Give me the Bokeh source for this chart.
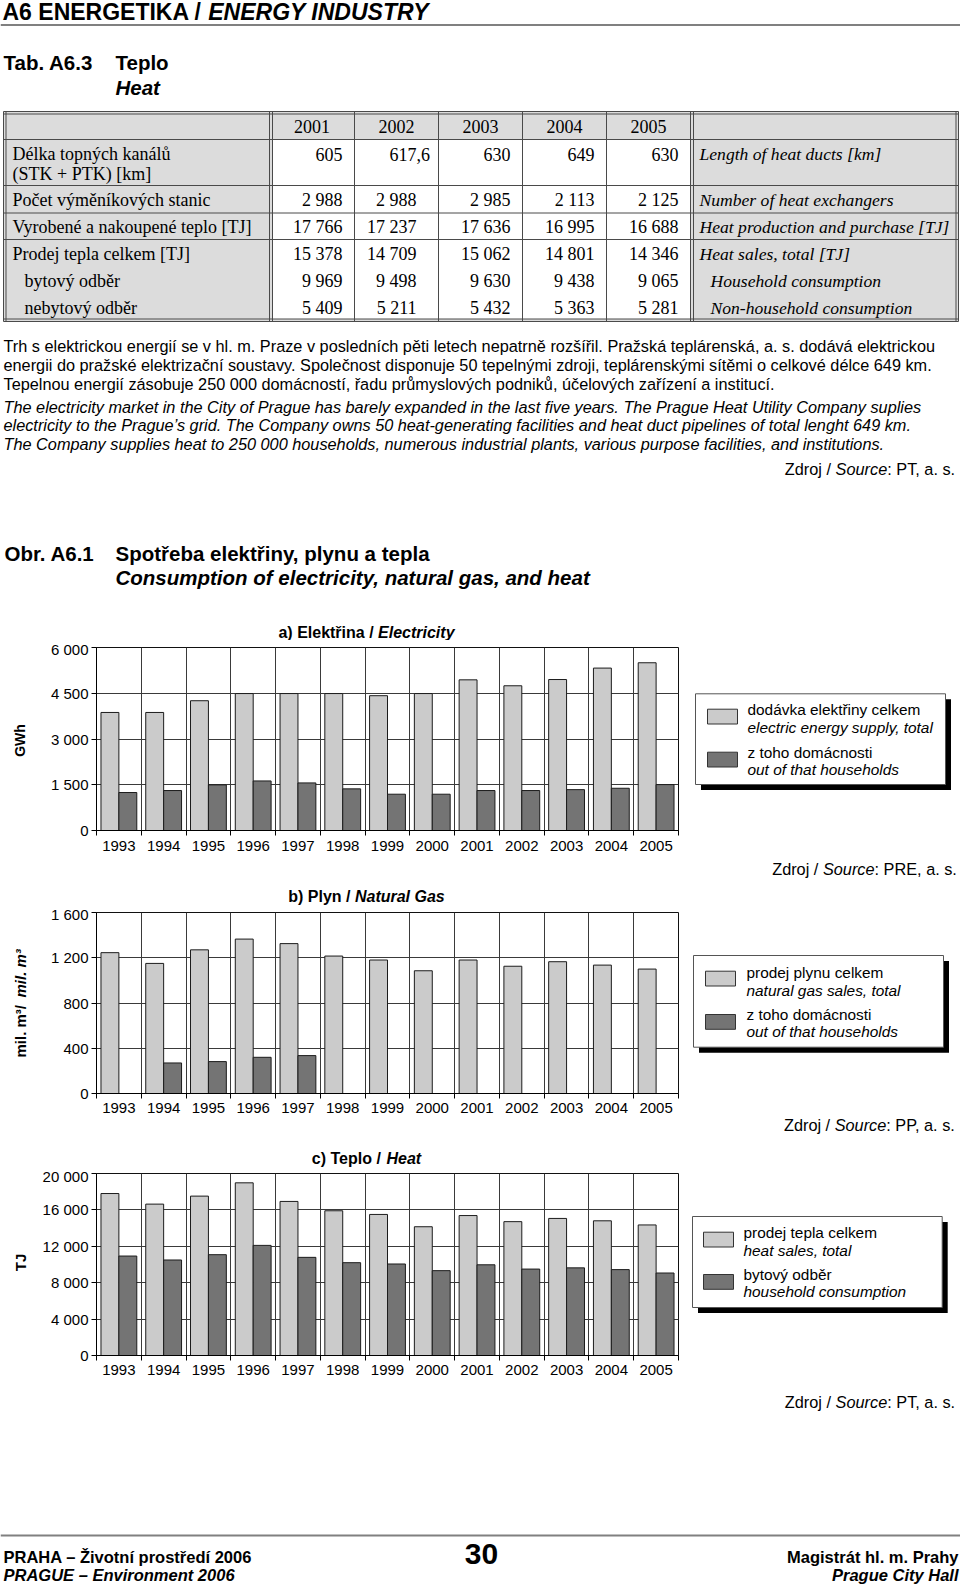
import math
import unicodedata
import numpy as np
from bokeh.plotting import figure
from bokeh.layouts import column, row
from bokeh.models import Range1d, FixedTicker, ColumnDataSource
from bokeh.core.properties import value
from bokeh.embed import file_html
from bokeh.resources import INLINE

# ------------------------------------------------------------------ data
years = ["1993", "1994", "1995", "1996", "1997", "1998", "1999",
         "2000", "2001", "2002", "2003", "2004", "2005"]

elec_total = [3870, 3870, 4255, 4490, 4490, 4490, 4420, 4490, 4940, 4745, 4950, 5325, 5500]
elec_households = [1245, 1310, 1495, 1625, 1560, 1365, 1190, 1190, 1310, 1310, 1340, 1385, 1505]
elec_ticks = [0, 1500, 3000, 4500, 6000]
elec_tick_labels = ["0", "1 500", "3 000", "4 500", "6 000"]

gas_total = [1245, 1150, 1270, 1365, 1325, 1215, 1180, 1085, 1180, 1125, 1165, 1135, 1100]
gas_households = [None, 270, 282, 320, 335, None, None, None, None, None, None, None, None]
gas_ticks = [0, 400, 800, 1200, 1600]
gas_tick_labels = ["0", "400", "800", "1 200", "1 600"]

heat_total = [17800, 16635, 17515, 18975, 16930, 15905, 15500, 14150, 15378, 14709, 15062, 14801, 14346]
heat_households = [10930, 10495, 11080, 12100, 10785, 10200, 10055, 9325, 9969, 9498, 9630, 9438, 9065]
heat_ticks = [0, 4000, 8000, 12000, 16000, 20000]
heat_tick_labels = ["0", "4 000", "8 000", "12 000", "16 000", "20 000"]

table_years = ["2001", "2002", "2003", "2004", "2005"]
duct_length_km = [605, 617.6, 630, 649, 630]
heat_exchangers = [2988, 2988, 2985, 2113, 2125]
heat_production_tj = [17766, 17237, 17636, 16995, 16688]
heat_sales_tj = [15378, 14709, 15062, 14801, 14346]
household_tj = [9969, 9498, 9630, 9438, 9065]
non_household_tj = [5409, 5211, 5432, 5363, 5281]

table_rows_cz = [["Délka topných kanálů", "(STK + PTK) [km]"], ["Počet výměníkových stanic"],
                 ["Vyrobené a nakoupené teplo [TJ]"], ["Prodej tepla celkem [TJ]"],
                 ["bytový odběr"], ["nebytový odběr"]]
table_rows_en = ["Length of heat ducts [km]", "Number of heat exchangers",
                 "Heat production and purchase [TJ]", "Heat sales, total [TJ]",
                 "Household consumption", "Non-household consumption"]
table_values = [duct_length_km, heat_exchangers, heat_production_tj,
                heat_sales_tj, household_tj, non_household_tj]

para_cz = [
    "Trh s elektrickou energií se v hl. m. Praze v posledních pěti letech nepatrně rozšířil. Pražská teplárenská, a. s. dodává elektrickou",
    "energii do pražské elektrizační soustavy. Společnost disponuje 50 tepelnými zdroji, teplárenskými sítěmi o celkové délce 649 km.",
    "Tepelnou energií zásobuje 250 000 domácností, řadu průmyslových podniků, účelových zařízení a institucí.",
]
para_en = [
    "The electricity market in the City of Prague has barely expanded in the last five years. The Prague Heat Utility Company suplies",
    "electricity to the Prague’s grid. The Company owns 50 heat-generating facilities and heat duct pipelines of total lenght 649 km.",
    "The Company supplies heat to 250 000 households, numerous industrial plants, various purpose facilities, and institutions.",
]

# ------------------------------------------------------------------ style
SANS = "Liberation Sans"
SERIF = "Liberation Serif"
LIGHT = "#cbcbcb"
DARK = "#747474"
EDGE = "#1c1c1c"
GRID = "#3a3a3a"
TGRAY = "#dcdcdc"
TLINE = "#4a4a4a"

# Helvetica / Arial advance widths (1/1000 em), used to lay out mixed-style lines
_UP = "ABCDEFGHIJKLMNOPQRSTUVWXYZ"
_LO = "abcdefghijklmnopqrstuvwxyz"
W_REG = dict(zip(_UP, [667, 667, 722, 722, 667, 611, 778, 722, 278, 500, 667, 556, 833, 722, 778, 667, 778, 722, 667, 611, 722, 667, 944, 667, 667, 611]))
W_REG.update(zip(_LO, [556, 556, 500, 556, 556, 278, 556, 556, 222, 222, 500, 222, 833, 556, 556, 556, 556, 333, 500, 278, 556, 500, 722, 500, 500, 500]))
W_REG.update({" ": 278, ",": 278, ".": 278, ":": 278, ";": 278, "/": 278, "(": 333, ")": 333, "-": 333,
              "–": 556, "[": 278, "]": 278, "+": 584, "’": 222, "³": 333})
W_BOLD = dict(zip(_UP, [722, 722, 722, 722, 667, 611, 778, 722, 278, 556, 722, 611, 833, 722, 778, 667, 778, 722, 667, 611, 722, 667, 944, 667, 667, 611]))
W_BOLD.update(zip(_LO, [556, 611, 556, 611, 556, 333, 611, 611, 278, 278, 556, 278, 889, 611, 611, 611, 611, 389, 556, 333, 611, 556, 778, 556, 556, 500]))
W_BOLD.update({" ": 278, ",": 278, ".": 278, ":": 333, ";": 333, "/": 278, "(": 333, ")": 333, "-": 333,
               "–": 556, "[": 333, "]": 333, "+": 584, "’": 278, "³": 333})


def tw(s, size, bold=False):
    tab = W_BOLD if bold else W_REG
    tot = 0
    for ch in s:
        if ch.isdigit():
            tot += 556
            continue
        if ch in tab:
            tot += tab[ch]
            continue
        base = unicodedata.normalize("NFD", ch)[0]
        tot += tab.get(base, 556)
    return tot * size / 1000.0


# ------------------------------------------------------------------ page geometry (1 px = 1 unit)
PAGE_W, PAGE_H = 960, 1588
BANDS = [0, 640, 857, 905, 1115, 1167, 1380, 1588]
COLS = [0, 36, 686, 960]
FRAME_L, FRAME_R = 96, 678
FRAMES = {1: (647, 830), 3: (912, 1093), 5: (1173, 1355)}


def deco(cx0, cx1, bi):
    x0, x1 = COLS[cx0], COLS[cx1]
    y0, y1 = BANDS[bi], BANDS[bi + 1]
    p = figure(width=x1 - x0, height=y1 - y0,
               x_range=Range1d(x0, x1), y_range=Range1d(y1, y0),
               output_backend="svg", toolbar_location=None, min_border=0,
               x_axis_type=None, y_axis_type=None, outline_line_color=None,
               background_fill_color="white", border_fill_color="white", margin=(0, 0, 0, 0))
    return p


def row_deco(cx0, cx1, bi):
    """Decoration figure inside a chart row; its frame matches the chart frame vertically."""
    x0, x1 = COLS[cx0], COLS[cx1]
    y0, y1 = BANDS[bi], BANDS[bi + 1]
    ft, fb = FRAMES[bi]
    p = figure(width=x1 - x0, height=y1 - y0,
               x_range=Range1d(x0, x1), y_range=Range1d(fb, ft),
               output_backend="svg", toolbar_location=None,
               min_border_left=0, min_border_right=0,
               min_border_top=ft - y0, min_border_bottom=y1 - fb,
               x_axis_type=None, y_axis_type=None, outline_line_color=None,
               background_fill_color="white", border_fill_color="white", margin=(0, 0, 0, 0))
    return p


def T(p, x, y, s, size, style="normal", align="left", font=SANS, color="#000000", angle=0.0):
    p.text(x=[x], y=[y], text=[s], text_font=value(font), text_font_size=value(f"{size}px"),
           text_font_style=style, text_align=align, text_baseline="middle",
           text_color=color, angle=angle)


def mixed(p, x, y, pieces, size, align="left"):
    widths = [tw(s, size, "bold" in st) for s, st in pieces]
    total = sum(widths)
    if align == "center":
        cur = x - total / 2
    elif align == "right":
        cur = x - total
    else:
        cur = x
    for (s, st), w in zip(pieces, widths):
        T(p, cur, y, s, size, st)
        cur += w


def source_line(p, y, who):
    mixed(p, 956.5, y, [("Zdroj / ", "normal"), ("Source", "italic"), (f": {who}, a. s.", "normal")],
          16.3, "right")


def fmt_num(v):
    if isinstance(v, float) and not float(v).is_integer():
        return f"{v:.1f}".replace(".", ",")
    return f"{int(v):,}".replace(",", " ")


# ------------------------------------------------------------------ band 0 : header, table, text
top = deco(0, 3, 0)
mixed(top, 2, 11, [("A6 ENERGETIKA / ", "bold"), ("ENERGY INDUSTRY", "bold italic")], 23)
top.line(x=[0, 960], y=[24.5, 24.5], line_color="#808080", line_width=2)
T(top, 3, 62, "Tab. A6.3", 20.5, "bold")
T(top, 115, 62, "Teplo", 20.5, "bold")
T(top, 115, 87, "Heat", 20.5, "bold italic")

# table
TL, TR, TT, TB = 3, 958, 111, 321
top.quad(left=[TL], right=[TR], top=[TT], bottom=[TB], fill_color=TGRAY, line_color=None)
top.quad(left=[272], right=[690], top=[139.5], bottom=[TB - 2.5], fill_color="white", line_color=None)
hlines = [TT, TT + 2.5, 139, 185, 212.5, 239, TB - 2.5, TB]
top.multi_line(xs=[[TL, TR] for _ in hlines], ys=[[h, h] for h in hlines],
               line_color=TLINE, line_width=1)
vlines = [TL, TL + 2.5, 269, 272, 354, 438, 522, 606, 690, 693, TR - 2.5, TR]
top.multi_line(xs=[[v, v] for v in vlines], ys=[[TT, TB] for _ in vlines],
               line_color=TLINE, line_width=1)

col_centers = [311.5, 396, 480, 564, 648]
num_right = [342, 416, 510, 594, 678]
TSZ = 18
TSZ_EN = 17.6
for yr_lbl, cx in zip(table_years, col_centers):
    T(top, cx, 125.5, yr_lbl, TSZ, align="center", font=SERIF)
row_y = [153.5, 199.5, 226, 253, 280.5, 307]
indent = [False, False, False, False, True, True]
for cz, en, vals, yy, ind in zip(table_rows_cz, table_rows_en, table_values, row_y, indent):
    T(top, 24 if ind else 12, yy, cz[0], TSZ, font=SERIF)
    if len(cz) > 1:
        T(top, 12, yy + 19.5, cz[1], TSZ, font=SERIF)
    T(top, 710 if ind else 699, yy, en, TSZ_EN, "italic", font=SERIF)
    for c, v in enumerate(vals):
        s = fmt_num(v)
        xr_ = num_right[c]
        if "," in s:
            xr_ += (250 + 500 * len(s.split(",")[1])) * TSZ / 1000.0
        T(top, xr_, yy, s, TSZ, align="right", font=SERIF)

# paragraphs
all_lines = para_cz + para_en
para_size = min(16.3, 954.0 * 1000.0 / max(tw(l, 1000) for l in all_lines))
para_size = round(para_size, 2)
for l, yy in zip(para_cz, [345, 364, 383]):
    T(top, 3, yy, l, para_size)
for l, yy in zip(para_en, [406, 424.5, 443]):
    T(top, 3, yy, l, para_size, "italic")
source_line(top, 468, "PT")

T(top, 4, 553, "Obr. A6.1", 20.5, "bold")
T(top, 115, 553, "Spotřeba elektřiny, plynu a tepla", 20.5, "bold")
T(top, 115, 577, "Consumption of electricity, natural gas, and heat", 20.5, "bold italic")
mixed(top, 366, 632, [("a) Elektřina / ", "bold"), ("Electricity", "bold italic")], 16, "center")


# ------------------------------------------------------------------ charts
def chart_fig(bi, ticks, tick_labels, total, house, standoff):
    n = len(years)
    ft, fb = FRAMES[bi]
    h = BANDS[bi + 1] - BANDS[bi]
    w = COLS[2] - COLS[1]
    p = figure(width=w, height=h, x_range=Range1d(0, n), y_range=Range1d(0, ticks[-1]),
               output_backend="svg", toolbar_location=None,
               min_border_left=FRAME_L - COLS[1], min_border_right=COLS[2] - FRAME_R,
               min_border_top=ft - BANDS[bi], min_border_bottom=BANDS[bi + 1] - fb,
               margin=(0, 0, 0, 0), background_fill_color="white", border_fill_color="white",
               outline_line_color="#111111", outline_line_width=1)
    idx = np.arange(n)
    src_t = ColumnDataSource(dict(x=idx + 0.5 - 0.2, top=total, year=years))
    p.vbar(x="x", top="top", width=0.4, source=src_t, fill_color=LIGHT, line_color=EDGE, line_width=1)
    hi = [i for i, v in enumerate(house) if v is not None]
    src_h = ColumnDataSource(dict(x=[i + 0.5 + 0.2 for i in hi], top=[house[i] for i in hi],
                                  year=[years[i] for i in hi]))
    p.vbar(x="x", top="top", width=0.4, source=src_h, fill_color=DARK, line_color=EDGE, line_width=1)

    xa = p.xaxis[0]
    xa.ticker = FixedTicker(ticks=[i + 0.5 for i in range(n)], minor_ticks=list(range(n + 1)))
    xa.major_label_overrides = {i + 0.5: years[i] for i in range(n)}
    xa.major_tick_out = 0
    xa.major_tick_in = 0
    xa.major_tick_line_color = None
    xa.minor_tick_out = 5
    xa.minor_tick_in = 0
    xa.minor_tick_line_color = "#000000"
    xa.axis_line_color = "#000000"
    xa.major_label_standoff = standoff
    xa.major_label_text_font = SANS
    xa.major_label_text_font_size = "15px"
    xa.major_label_text_color = "#000000"

    ya = p.yaxis[0]
    ya.ticker = FixedTicker(ticks=ticks)
    ya.major_label_overrides = {t: l for t, l in zip(ticks, tick_labels)}
    ya.major_tick_out = 5
    ya.major_tick_in = 0
    ya.minor_tick_line_color = None
    ya.major_tick_line_color = "#000000"
    ya.axis_line_color = "#000000"
    ya.major_label_standoff = 3
    ya.major_label_text_font = SANS
    ya.major_label_text_font_size = "15px"
    ya.major_label_text_color = "#000000"

    p.xgrid.ticker = FixedTicker(ticks=list(range(n + 1)))
    p.xgrid.grid_line_color = GRID
    p.xgrid.grid_line_width = 1
    p.ygrid.grid_line_color = GRID
    p.ygrid.grid_line_width = 1
    return p


def legend_box(p, l, t, r, b, sw_l, sw_tops, text_x, text_ys, lines):
    p.quad(left=[l + 5.5], right=[r + 5.5], top=[t + 5.5], bottom=[b + 5.5],
           fill_color="#000000", line_color=None)
    p.quad(left=[l], right=[r], top=[t], bottom=[b], fill_color="white", line_color="#555555", line_width=1)
    for st, col in zip(sw_tops, [LIGHT, DARK]):
        p.quad(left=[sw_l], right=[sw_l + 30], top=[st], bottom=[st + 14.8],
               fill_color=col, line_color="#333333", line_width=1)
    for (s, style), yy in zip(lines, text_ys):
        T(p, text_x, yy, s, 15.4, style)


# ---- chart a
lab_a = row_deco(0, 1, 1)
T(lab_a, 19.5, 740, "GWh", 14, "bold", align="center", angle=math.pi / 2)
ch_a = chart_fig(1, elec_ticks, elec_tick_labels, elec_total, elec_households, 5)
side_a = row_deco(2, 3, 1)
legend_box(side_a, 695, 693.3, 945, 784, 707, [708.7, 751.7], 747, [709, 727, 752, 768.5],
           [("dodávka elektřiny celkem", "normal"), ("electric energy supply, total", "italic"),
            ("z toho domácnosti", "normal"), ("out of that households", "italic")])

# ---- band 2: source a, title b
band2 = deco(0, 3, 2)
source_line(band2, 868, "PRE")
mixed(band2, 366, 896, [("b) Plyn / ", "bold"), ("Natural Gas", "bold italic")], 16, "center")

# ---- chart b
lab_b = row_deco(0, 1, 3)
cur = 1057.0
for s, st in [("mil. m³/ ", "bold"), ("mil. m³", "bold italic")]:
    T(lab_b, 20, cur, s, 15, st, angle=math.pi / 2)
    cur -= tw(s, 15, True)
ch_b = chart_fig(3, gas_ticks, gas_tick_labels, gas_total, gas_households, 4)
side_b = row_deco(2, 3, 3)
legend_box(side_b, 693, 955, 943, 1046.7, 705, [970.7, 1014], 746, [972.3, 989.5, 1014, 1030.7],
           [("prodej plynu celkem", "normal"), ("natural gas sales, total", "italic"),
            ("z toho domácnosti", "normal"), ("out of that households", "italic")])

# ---- band 4: source b, title c
band4 = deco(0, 3, 4)
source_line(band4, 1124.5, "PP")
mixed(band4, 366, 1158.3, [("c) Teplo / ", "bold"), ("Heat", "bold italic")], 16, "center")

# ---- chart c
lab_c = row_deco(0, 1, 5)
T(lab_c, 20, 1262, "TJ", 15, "bold", align="center", angle=math.pi / 2)
ch_c = chart_fig(5, heat_ticks, heat_tick_labels, heat_total, heat_households, 4)
side_c = row_deco(2, 3, 5)
legend_box(side_c, 692, 1216, 941.7, 1307, 703, [1231.7, 1274], 743, [1232.3, 1250, 1274, 1290.7],
           [("prodej tepla celkem", "normal"), ("heat sales, total", "italic"),
            ("bytový odběr", "normal"), ("household consumption", "italic")])

# ---- band 6: source c, footer
foot = deco(0, 3, 6)
source_line(foot, 1401, "PT")
foot.line(x=[0, 960], y=[1535, 1535], line_color="#808080", line_width=2)
T(foot, 3, 1556.5, "PRAHA – Životní prostředí 2006", 16.5, "bold")
T(foot, 3, 1574, "PRAGUE – Environment 2006", 16.5, "bold italic")
T(foot, 481, 1553, "30", 30, "bold", align="center")
T(foot, 958, 1556.5, "Magistrát hl. m. Prahy", 16.5, "bold", align="right")
T(foot, 958, 1574, "Prague City Hall", 16.5, "bold italic", align="right")

layout = column(
    top,
    row(lab_a, ch_a, side_a, spacing=0),
    band2,
    row(lab_b, ch_b, side_b, spacing=0),
    band4,
    row(lab_c, ch_c, side_c, spacing=0),
    foot,
    spacing=0,
)

with open("out.html", "w", encoding="utf-8") as f:
    f.write(file_html(layout, INLINE, title="Energetika"))
